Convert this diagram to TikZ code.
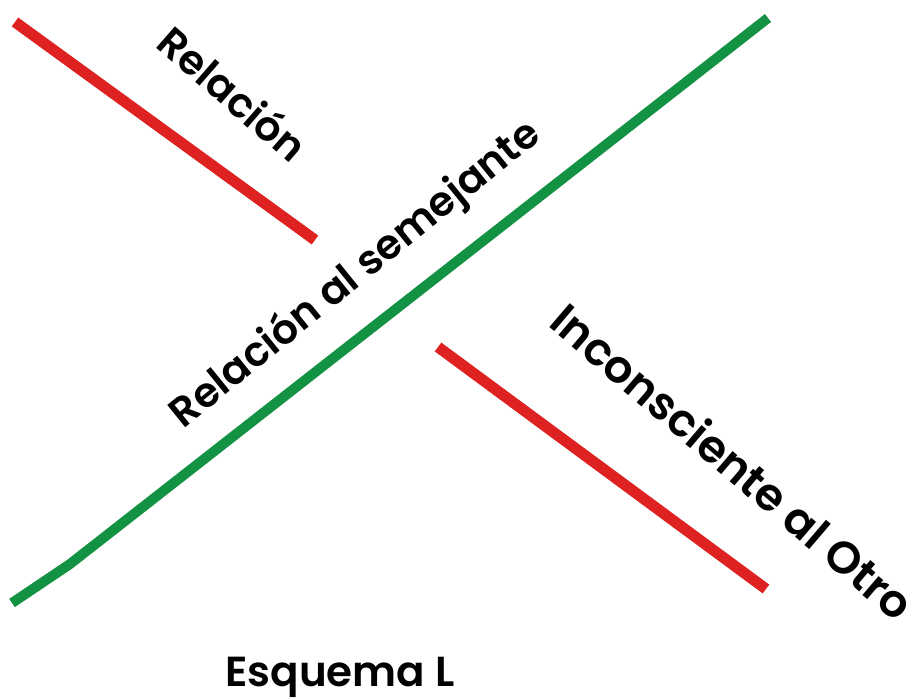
\documentclass[tikz,border=0pt]{standalone}
\usepackage{fontspec}
\newfontfamily\lblfont{Poppins SemiBold}
\definecolor{redL}{RGB}{222,34,34}
\definecolor{greenL}{RGB}{18,146,66}
\begin{document}
\begin{tikzpicture}[x=1pt,y=-1pt,
  redline/.style={draw=redL,line width=11pt},
  greenline/.style={draw=greenL,line width=10pt},
  lbl/.style={font=\fontsize{41}{46}\lblfont,inner sep=0pt,anchor=mid}]
\useasboundingbox (0,0) rectangle (915,700);
% endpoints
\coordinate (r1a) at (15,22);
\coordinate (r1b) at (315,240);
\coordinate (r2a) at (438,347);
\coordinate (r2b) at (766,589);
\coordinate (g1) at (12,603);
\coordinate (gk) at (70,564);
\coordinate (g2) at (768,18);
\draw[redline] (r1a) -- (r1b);
\draw[redline] (r2a) -- (r2b);
\draw[greenline,line join=round] (g1) -- (gk) -- (g2);
\node[lbl,rotate=-41] (t1) at (224,104) {Relación};
\node[lbl,rotate=39] (t2) at (362,282) {Relación al semejante};
\node[lbl,rotate=-40.5,font=\fontsize{45}{50}\lblfont] (t3) at (723,473) {Inconsciente al Otro};
\node[lbl,anchor=base,font=\fontsize{42}{46}\lblfont] (t4) at (340,686) {Esquema L};
\end{tikzpicture}
\end{document}
